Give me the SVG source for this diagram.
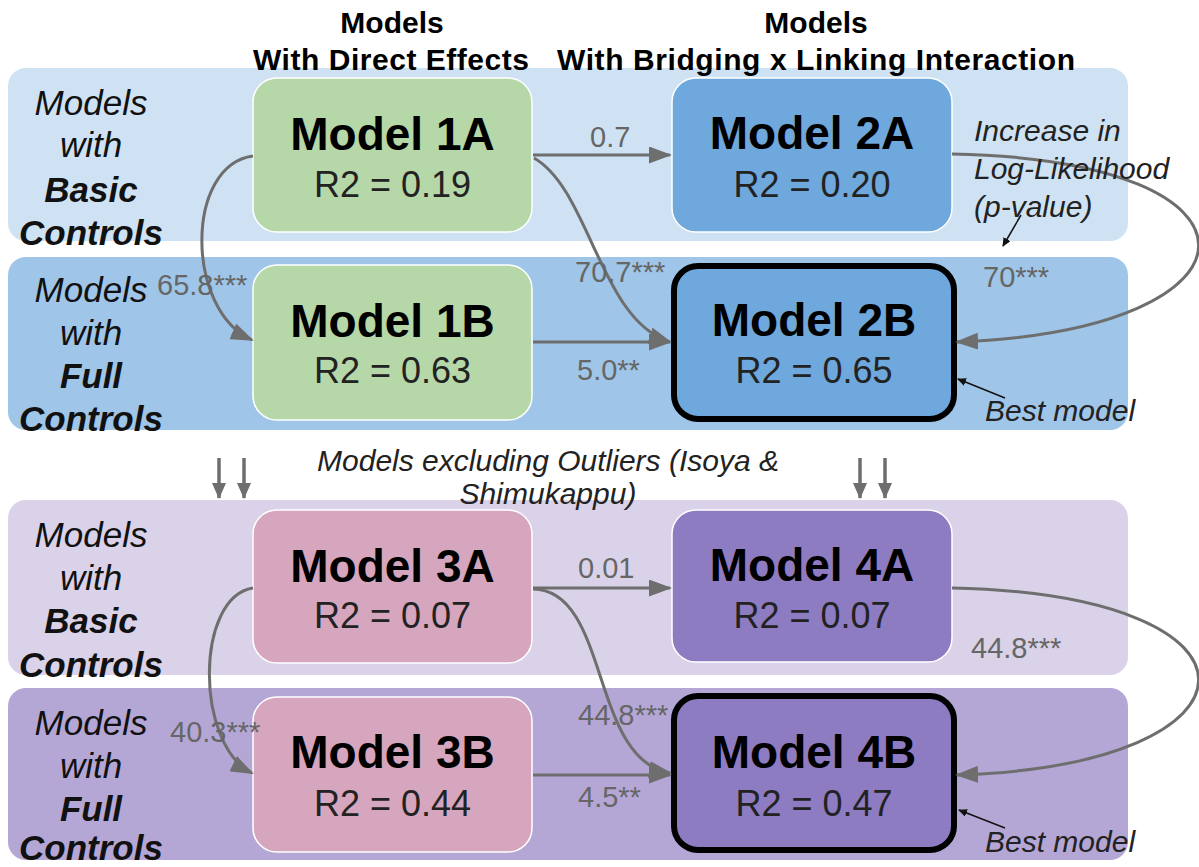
<svg xmlns="http://www.w3.org/2000/svg" width="1199" height="867" viewBox="0 0 1199 867">
  <style>
    .hdr { font-family: "Liberation Sans", Arial, sans-serif; font-weight: bold; font-size: 30px; fill: #000; text-anchor: middle; }
    .row { font-family: "Liberation Sans", Arial, sans-serif; font-style: italic; font-size: 35px; fill: #111; text-anchor: middle; }
    .rowb { font-weight: bold; }
    .title { font-family: "Liberation Sans", Arial, sans-serif; font-weight: bold; font-size: 46px; fill: #000; text-anchor: middle; }
    .r2 { font-family: "Liberation Sans", Arial, sans-serif; font-size: 36px; fill: #222; text-anchor: middle; }
    .num { font-family: "Liberation Sans", Arial, sans-serif; font-size: 29px; fill: #666; }
    .note { font-family: "Liberation Sans", Arial, sans-serif; font-style: italic; font-size: 30px; fill: #222; }
    .box { stroke: #ffffff; stroke-width: 1.5; }
    .best { stroke: #000; stroke-width: 6; }
    .conn { fill: none; stroke: #6e6e6e; stroke-width: 3; }
    .down { fill: none; stroke: #6e6e6e; stroke-width: 3.5; }
    .pointer { fill: none; stroke: #111; stroke-width: 1.5; }
  </style>
  <defs>
    <marker id="ah" markerUnits="userSpaceOnUse" markerWidth="23" markerHeight="17" viewBox="0 0 23 17" refX="21" refY="8.5" orient="auto">
      <path d="M0,0 L23,8.5 L0,17 Z" fill="#6e6e6e"/>
    </marker>
    <marker id="ahs" markerUnits="userSpaceOnUse" markerWidth="16" markerHeight="14" viewBox="0 0 16 14" refX="15" refY="7" orient="auto">
      <path d="M0,0 L16,7 L0,14 Z" fill="#6e6e6e"/>
    </marker>
    <marker id="ahb" markerUnits="userSpaceOnUse" markerWidth="9" markerHeight="8" viewBox="0 0 9 8" refX="8" refY="4" orient="auto">
      <path d="M0,0 L9,4 L0,8 Z" fill="#111"/>
    </marker>
  </defs>

  <rect width="1199" height="867" fill="#ffffff"/>

  <g id="bands">
    <rect x="8" y="68" width="1120" height="173" rx="18" fill="#cfe2f3"/>
    <rect x="8" y="257" width="1120" height="173" rx="18" fill="#9fc5e8"/>
    <rect x="8" y="500" width="1120" height="175" rx="18" fill="#d9d2e9"/>
    <rect x="8" y="688" width="1120" height="172" rx="18" fill="#b4a7d6"/>
  </g>

  <g id="headers">
    <text class="hdr" x="392" y="33">Models</text>
    <text class="hdr" x="391" y="70" textLength="276">With Direct Effects</text>
    <text class="hdr" x="816" y="33">Models</text>
    <text class="hdr" x="816" y="70" textLength="518">With Bridging x Linking Interaction</text>
  </g>

  <g id="row-labels">
    <text class="row" x="91" y="115">Models</text>
    <text class="row" x="91" y="157">with</text>
    <text class="row rowb" x="91" y="202">Basic</text>
    <text class="row rowb" x="91" y="245">Controls</text>
    <text class="row" x="91" y="302">Models</text>
    <text class="row" x="91" y="345">with</text>
    <text class="row rowb" x="91" y="388">Full</text>
    <text class="row rowb" x="91" y="431">Controls</text>
    <text class="row" x="91" y="547">Models</text>
    <text class="row" x="91" y="590">with</text>
    <text class="row rowb" x="91" y="633">Basic</text>
    <text class="row rowb" x="91" y="677">Controls</text>
    <text class="row" x="91" y="735">Models</text>
    <text class="row" x="91" y="778">with</text>
    <text class="row rowb" x="91" y="821">Full</text>
    <text class="row rowb" x="91" y="860">Controls</text>
  </g>

  <g id="node-1A">
    <rect class="box" x="253" y="78" width="279" height="154" rx="24" fill="#b6d7a8"/>
    <text class="title" x="392.5" y="150">Model 1A</text>
    <text class="r2" x="392.5" y="197">R2 = 0.19</text>
  </g>
  <g id="node-1B">
    <rect class="box" x="253" y="265" width="279" height="155" rx="24" fill="#b6d7a8"/>
    <text class="title" x="392.5" y="337">Model 1B</text>
    <text class="r2" x="392.5" y="383">R2 = 0.63</text>
  </g>
  <g id="node-2A">
    <rect class="box" x="672" y="78" width="280" height="154" rx="24" fill="#6fa8dc"/>
    <text class="title" x="812" y="149">Model 2A</text>
    <text class="r2" x="812" y="197">R2 = 0.20</text>
  </g>
  <g id="node-2B">
    <rect class="best" x="674" y="266" width="280" height="153" rx="24" fill="#6fa8dc"/>
    <text class="title" x="814" y="336">Model 2B</text>
    <text class="r2" x="814" y="383">R2 = 0.65</text>
  </g>
  <g id="node-3A">
    <rect class="box" x="253" y="510" width="279" height="153" rx="24" fill="#d5a6bd"/>
    <text class="title" x="392.5" y="582">Model 3A</text>
    <text class="r2" x="392.5" y="628">R2 = 0.07</text>
  </g>
  <g id="node-3B">
    <rect class="box" x="253" y="697" width="279" height="155" rx="24" fill="#d5a6bd"/>
    <text class="title" x="392.5" y="768">Model 3B</text>
    <text class="r2" x="392.5" y="816">R2 = 0.44</text>
  </g>
  <g id="node-4A">
    <rect class="box" x="672" y="510" width="280" height="152" rx="24" fill="#8e7cc3"/>
    <text class="title" x="812" y="581">Model 4A</text>
    <text class="r2" x="812" y="628">R2 = 0.07</text>
  </g>
  <g id="node-4B">
    <rect class="best" x="674" y="696" width="280" height="154" rx="24" fill="#8e7cc3"/>
    <text class="title" x="814" y="768">Model 4B</text>
    <text class="r2" x="814" y="816">R2 = 0.47</text>
  </g>

  <g id="connectors">
    <path class="conn" d="M253,156 C185,165 185,310 252,340" marker-end="url(#ah)"/>
    <path class="conn" d="M533,155 L670,155" marker-end="url(#ah)"/>
    <path class="conn" d="M534,158 C590,190 600,320 670,342" marker-end="url(#ah)"/>
    <path class="conn" d="M533,342 L670,342" marker-end="url(#ah)"/>
    <path class="conn" d="M952,154 C1285,160 1275,330 957,342" marker-end="url(#ah)"/>

    <path class="conn" d="M253,588 C195,597 195,745 252,773" marker-end="url(#ah)"/>
    <path class="conn" d="M533,588 L670,588" marker-end="url(#ah)"/>
    <path class="conn" d="M533,589 C610,590 590,760 670,773" marker-end="url(#ah)"/>
    <path class="conn" d="M533,775 L670,775" marker-end="url(#ah)"/>
    <path class="conn" d="M952,588 C1285,595 1275,765 957,775" marker-end="url(#ah)"/>

    <path class="down" d="M219,458 L219,498" marker-end="url(#ahs)"/>
    <path class="down" d="M244,458 L244,498" marker-end="url(#ahs)"/>
    <path class="down" d="M860,458 L860,498" marker-end="url(#ahs)"/>
    <path class="down" d="M885,458 L885,498" marker-end="url(#ahs)"/>

    <path class="pointer" d="M1021,215 L1003,246" marker-end="url(#ahb)"/>
    <path class="pointer" d="M1005,398 L958,379" marker-end="url(#ahb)"/>
    <path class="pointer" d="M1005,828 L959,810" marker-end="url(#ahb)"/>
  </g>

  <g id="edge-labels">
    <text class="num" x="590" y="147">0.7</text>
    <text class="num" x="575" y="282">70.7***</text>
    <text class="num" x="577" y="380">5.0**</text>
    <text class="num" x="157" y="295">65.8***</text>
    <text class="num" x="983" y="287">70***</text>
    <text class="num" x="578" y="578">0.01</text>
    <text class="num" x="578" y="725">44.8***</text>
    <text class="num" x="578" y="807">4.5**</text>
    <text class="num" x="170" y="742">40.3***</text>
    <text class="num" x="971" y="658">44.8***</text>
  </g>

  <g id="annotations">
    <text class="note" x="974" y="141">Increase in</text>
    <text class="note" x="974" y="179">Log-Likelihood</text>
    <text class="note" x="974" y="217">(p-value)</text>
    <text class="note" x="985" y="421">Best model</text>
    <text class="note" x="985" y="852">Best model</text>
    <text class="note" x="548" y="471" text-anchor="middle">Models excluding Outliers (Isoya &amp;</text>
    <text class="note" x="548" y="504" text-anchor="middle">Shimukappu)</text>
  </g>
</svg>
